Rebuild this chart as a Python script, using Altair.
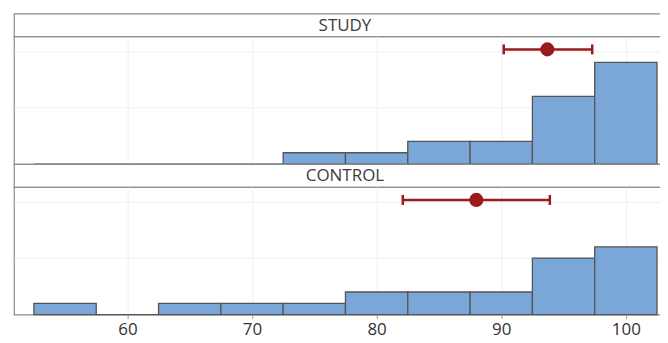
import altair as alt
import pandas as pd

# ---- data ----
bin_starts = [52.5, 57.5, 62.5, 67.5, 72.5, 77.5, 82.5, 87.5, 92.5, 97.5]
bin_width = 5
study_counts = [0, 0, 0, 0, 1, 1, 2, 2, 6, 9]
control_counts = [1, 0, 1, 1, 1, 2, 2, 2, 5, 6]
groups = ["STUDY", "CONTROL"]
means = [93.7, 88.0]
ci_low = [90.2, 82.1]
ci_high = [97.3, 93.9]
x_ticks = [60, 70, 80, 90, 100]
y_grid = [5, 10]

# ---- tables ----
rows = []
for g, counts in zip(groups, [study_counts, control_counts]):
    for s, c in zip(bin_starts, counts):
        rows.append({"group": g, "start": s, "end": s + bin_width, "count": c})
bars_df = pd.DataFrame(rows)
ci_df = pd.DataFrame({"group": groups, "mean": means, "low": ci_low, "high": ci_high})

W = 664
H = 128
HH = 23
FONT = "Open Sans"
GRID = "#EFEFEF"
RED = "#9B1A1C"

xscale = alt.Scale(domain=[50.9, 104.02], nice=False, zero=False)
yscale = alt.Scale(domain=[0, 11.3], nice=False)


def xaxis(show):
    if show:
        return alt.Axis(values=x_ticks, grid=True, gridColor=GRID, labels=True,
                        labelFontSize=17, labelColor="#333333", labelFont=FONT,
                        ticks=True, tickSize=4, tickColor="#999999",
                        domain=False, title=None, labelPadding=3)
    return alt.Axis(values=x_ticks, grid=True, gridColor=GRID, labels=False,
                    ticks=False, domain=False, title=None)


yaxis = alt.Axis(values=y_grid, grid=True, gridColor=GRID, labels=False,
                 ticks=False, domain=False, title=None)


def panel(g, show):
    d = bars_df[bars_df.group == g]
    c = ci_df[ci_df.group == g]
    bars = alt.Chart(d).mark_rect(fill="#7BA6D8", stroke="#555555", strokeWidth=1.3).encode(
        x=alt.X("start:Q", scale=xscale, axis=xaxis(show)),
        x2="end:Q",
        y=alt.Y("count:Q", scale=yscale, axis=yaxis),
        y2=alt.datum(0),
    )
    base = alt.Chart(c)
    rule = base.mark_rule(color=RED, strokeWidth=2.5).encode(
        x=alt.X("low:Q", scale=xscale, axis=xaxis(show)),
        x2="high:Q",
        y=alt.value(13),
    )
    cap_lo = base.mark_rule(color=RED, strokeWidth=2.5).encode(
        x=alt.X("low:Q", scale=xscale), y=alt.value(8), y2=alt.value(18))
    cap_hi = base.mark_rule(color=RED, strokeWidth=2.5).encode(
        x=alt.X("high:Q", scale=xscale), y=alt.value(8), y2=alt.value(18))
    dot = base.mark_circle(color=RED, opacity=1, size=200).encode(
        x=alt.X("mean:Q", scale=xscale), y=alt.value(13))
    return alt.layer(bars, rule, cap_lo, cap_hi, dot).properties(width=W, height=H)


def header(g):
    return alt.Chart(pd.DataFrame({"label": [g]})).mark_text(
        font=FONT, fontSize=17, color="#3C3C3C", baseline="middle", align="center"
    ).encode(text="label:N", x=alt.value(W / 2), y=alt.value(HH / 2 + 1)).properties(
        width=W, height=HH)


chart = alt.vconcat(
    header(groups[0]), panel(groups[0], False),
    header(groups[1]), panel(groups[1], True),
    spacing=0, bounds="flush",
).properties(
    padding={"left": 5, "top": 4, "right": -17, "bottom": 5}
).configure_view(stroke="#8C8C8C", strokeWidth=1.2)

chart.save("out.html", embed_options={"renderer": "svg", "actions": False})
